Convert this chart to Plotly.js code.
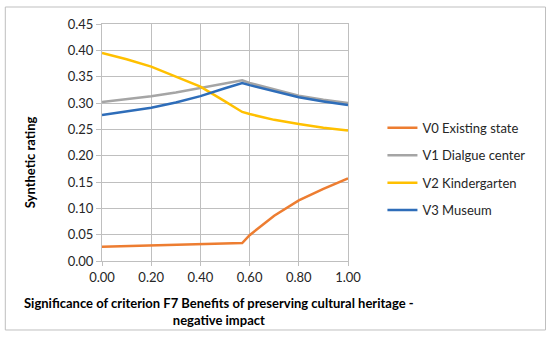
<!DOCTYPE html>
<html>
<head>
<meta charset="utf-8">
<script src="https://cdn.plot.ly/plotly-3.0.1.min.js"></script>
<style>html,body{margin:0;padding:0;background:#fff;}#chart{width:550px;height:338px;}</style>
</head>
<body>
<div id="chart"></div>
<script>
var xVals = [0, 0.1, 0.2, 0.3, 0.4, 0.5, 0.57, 0.6, 0.7, 0.8, 0.9, 1.0];
var v0 = [0.027, 0.028, 0.029, 0.030, 0.031, 0.032, 0.034, 0.049, 0.086, 0.115, 0.137, 0.157];
var v1 = [0.302, 0.307, 0.313, 0.320, 0.328, 0.336, 0.343, 0.338, 0.326, 0.314, 0.306, 0.300];
var v2 = [0.395, 0.383, 0.369, 0.350, 0.331, 0.303, 0.283, 0.279, 0.268, 0.260, 0.253, 0.248];
var v3 = [0.277, 0.284, 0.291, 0.301, 0.313, 0.328, 0.338, 0.334, 0.322, 0.311, 0.303, 0.296];
var names = ['V0 Existing state', 'V1 Dialgue center', 'V2 Kindergarten', 'V3 Museum'];
var colors = ['#ED7D31', '#A5A5A5', '#FFC000', '#2E6DB9'];
var series = [v0, v1, v2, v3];

var traces = series.map(function (s, i) {
  return {
    x: xVals, y: s, type: 'scatter', mode: 'lines', name: names[i],
    legendgroup: 'g' + i,
    line: {color: colors[i], width: 2.5}
  };
});

var font = 'Lato, "Open Sans", sans-serif';
var layout = {
  width: 550, height: 338,
  margin: {l: 102, r: 202, t: 24, b: 77},
  paper_bgcolor: '#fff', plot_bgcolor: '#fff',
  font: {family: font, size: 12, color: '#262626'},
  showlegend: true,
  legend: {x: 1.14, y: 0.625, xanchor: 'left', yanchor: 'top',
           font: {family: font, size: 13, color: '#262626'},
           tracegroupgap: 7.5, bgcolor: 'rgba(0,0,0,0)'},
  xaxis: {range: [0, 1], dtick: 0.2, tick0: 0, tickformat: '.2f',
          showgrid: true, gridcolor: '#BFBFBF', gridwidth: 1,
          showline: true, linecolor: '#BFBFBF', mirror: true,
          ticks: 'outside', ticklen: 4, tickcolor: '#BFBFBF',
          zeroline: false, tickfont: {size: 13, color: '#262626'}},
  yaxis: {range: [0, 0.45], dtick: 0.05, tick0: 0, tickformat: '.2f',
          showgrid: true, gridcolor: '#BFBFBF', gridwidth: 1,
          showline: true, linecolor: '#BFBFBF', mirror: true,
          ticks: 'outside', ticklen: 5, tickcolor: '#BFBFBF',
          zeroline: false, tickfont: {size: 13, color: '#262626'}},
  annotations: [
    {text: '<b>Synthetic rating</b>', xref: 'paper', yref: 'paper',
     x: -0.2915, y: 0.418, xanchor: 'center', yanchor: 'middle',
     textangle: -90, showarrow: false,
     font: {family: font, size: 13, color: '#000'}},
    {text: '<b>Significance of criterion F7 Benefits of preserving cultural heritage -</b><br><b>negative impact</b>',
     xref: 'paper', yref: 'paper', x: 0.477, y: -0.211,
     xanchor: 'center', yanchor: 'middle', showarrow: false,
     font: {family: font, size: 13, color: '#000'}}
  ],
  shapes: [
    {type: 'rect', xref: 'paper', yref: 'paper',
     x0: -0.3931, x1: 1.8029, y0: -0.2911, y1: 1.0717,
     line: {color: '#BFBFBF', width: 1}, fillcolor: 'rgba(0,0,0,0)'}
  ]
};

Plotly.newPlot('chart', traces, layout, {displayModeBar: false, staticPlot: true});
</script>
</body>
</html>
